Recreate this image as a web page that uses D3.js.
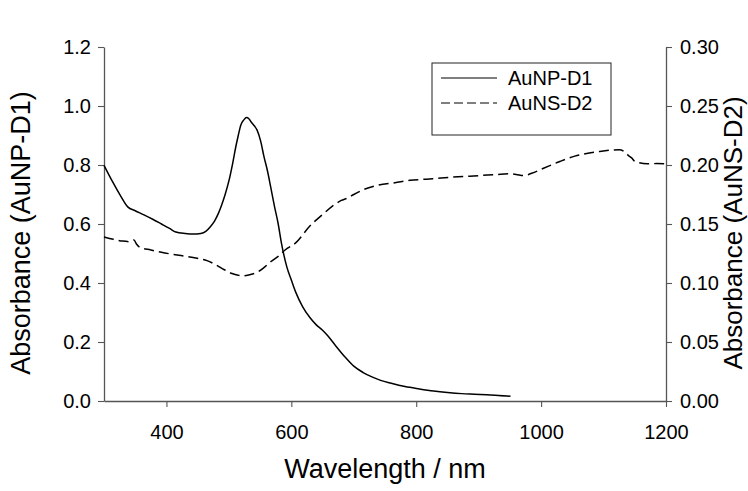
<!DOCTYPE html>
<html>
<head>
<meta charset="utf-8">
<script src="https://d3js.org/d3.v7.min.js"></script>
<title>Absorbance spectra</title>
<style>
body { margin: 0; background: #fff; }
svg { font-family: "Liberation Sans", Arial, sans-serif; }
</style>
</head>
<body>
<svg id="canvas" width="748" height="491"></svg>
<script>
// AuNP-D1 (left axis)
var npWave = [300,313,327,338,350,364,378,392,405,415,430,443,455,463,470,477,483,488,494,500,
  506,511,515,519,524,528,532,536,541,545,551,556,562,567,573,579,584,593,600,607,
  618,630,640,650,658,670,686,700,715,730,743,760,782,805,828,850,873,893,913,932,951];
var npAbs = [0.799,0.746,0.694,0.658,0.645,0.631,0.616,0.600,0.585,0.573,0.568,0.566,0.568,0.575,0.590,0.610,0.635,0.662,0.700,0.746,
  0.805,0.861,0.900,0.935,0.953,0.961,0.957,0.945,0.932,0.919,0.880,0.830,0.778,0.725,0.660,0.600,0.537,0.453,0.410,0.369,
  0.320,0.282,0.258,0.240,0.222,0.190,0.149,0.118,0.0965,0.081,0.070,0.060,0.049,0.041,0.034,0.029,0.025,0.023,0.021,0.019,0.016];

// AuNS-D2 (right axis)
var nsWave = [300,315,330,342,348,352,358,375,392,420,449,465,477,490,505,515,522,533,545,556,
  567,580,590,607,630,650,668,680,690,700,715,740,766,790,816,840,867,900,930,947,
  960,972,985,1003,1030,1054,1075,1094,1110,1125,1133,1140,1145,1150,1156,1170,1185,1199];
var nsAbs = [0.139,0.137,0.1355,0.135,0.1365,0.133,0.130,0.128,0.126,0.1235,0.121,0.119,0.116,0.112,0.108,0.1065,0.106,0.107,0.109,0.113,
  0.118,0.123,0.128,0.134,0.1485,0.158,0.166,0.170,0.172,0.175,0.179,0.183,0.185,0.187,0.188,0.189,0.190,0.191,0.192,0.1925,
  0.192,0.191,0.193,0.197,0.203,0.2075,0.210,0.2115,0.2125,0.213,0.2115,0.208,0.206,0.203,0.202,0.201,0.2012,0.201];

var xTicks = [400, 600, 800, 1000, 1200];
var leftTicks = [0, 0.2, 0.4, 0.6, 0.8, 1.0, 1.2];
var rightTicks = [0, 0.05, 0.10, 0.15, 0.20, 0.25, 0.30];
var legendNames = ["AuNP-D1", "AuNS-D2"];

var plotLeft = 104, plotRight = 666, plotTop = 47, plotBottom = 401;
var axisColor = "#555";

var svg = d3.select("#canvas");

var x = d3.scaleLinear().domain([300, 1200]).range([plotLeft, plotRight]);
var yL = d3.scaleLinear().domain([0, 1.2]).range([plotBottom, plotTop]);
var yR = d3.scaleLinear().domain([0, 0.3]).range([plotBottom, plotTop]);

function styleAxis(g) {
  g.select(".domain").attr("stroke", axisColor).attr("stroke-width", 1.3);
  g.selectAll(".tick line").attr("stroke", axisColor).attr("stroke-width", 1.1);
  g.selectAll(".tick text").attr("fill", "#000").style("font-size", "20px")
    .style("font-family", '"Liberation Sans", Arial, sans-serif');
}

svg.append("g").attr("transform", "translate(0," + plotBottom + ")")
  .call(d3.axisBottom(x).tickValues(xTicks).tickFormat(d3.format("d")).tickSize(6).tickSizeOuter(0).tickPadding(18))
  .call(styleAxis);

svg.append("g").attr("transform", "translate(" + plotLeft + ",0)")
  .call(d3.axisLeft(yL).tickValues(leftTicks).tickFormat(d3.format(".1f")).tickSize(6).tickSizeOuter(0).tickPadding(7))
  .call(styleAxis);

svg.append("g").attr("transform", "translate(" + plotRight + ",0)")
  .call(d3.axisRight(yR).tickValues(rightTicks).tickFormat(d3.format(".2f")).tickSize(6).tickSizeOuter(0).tickPadding(8))
  .call(styleAxis);

// curves
var npData = npWave.map(function(w, i) { return [w, npAbs[i]]; });
var nsData = nsWave.map(function(w, i) { return [w, nsAbs[i]]; });

var lineL = d3.line().x(function(d) { return x(d[0]); }).y(function(d) { return yL(d[1]); }).curve(d3.curveMonotoneX);
var lineR = d3.line().x(function(d) { return x(d[0]); }).y(function(d) { return yR(d[1]); }).curve(d3.curveMonotoneX);

svg.append("path").datum(npData).attr("d", lineL)
  .attr("fill", "none").attr("stroke", "#000").attr("stroke-width", 1.5);
svg.append("path").datum(nsData).attr("d", lineR)
  .attr("fill", "none").attr("stroke", "#000").attr("stroke-width", 1.5).attr("stroke-dasharray", "10,5");

// axis titles
svg.append("text").attr("x", (plotLeft + plotRight) / 2).attr("y", 478)
  .attr("text-anchor", "middle").style("font-size", "27px").text("Wavelength / nm");
svg.append("text").attr("transform", "translate(30,233) rotate(-90)")
  .attr("text-anchor", "middle").style("font-size", "27px").text("Absorbance (AuNP-D1)");
svg.append("text").attr("transform", "translate(742,233) rotate(-90)")
  .attr("text-anchor", "middle").style("font-size", "26px").text("Absorbance (AuNS-D2)");

// legend
var legend = svg.append("g");
legend.append("rect").attr("x", 432).attr("y", 63).attr("width", 179).attr("height", 72)
  .attr("fill", "#fff").attr("stroke", "#222").attr("stroke-width", 1);
legendNames.forEach(function(name, i) {
  var ly = 78 + i * 25;
  legend.append("line").attr("x1", 441).attr("x2", 497).attr("y1", ly).attr("y2", ly)
    .attr("stroke", "#000").attr("stroke-width", 1.1)
    .attr("stroke-dasharray", i === 1 ? "9,4" : null);
  legend.append("text").attr("x", 508).attr("y", ly + 7)
    .style("font-size", "20px").text(name);
});
</script>
</body>
</html>
